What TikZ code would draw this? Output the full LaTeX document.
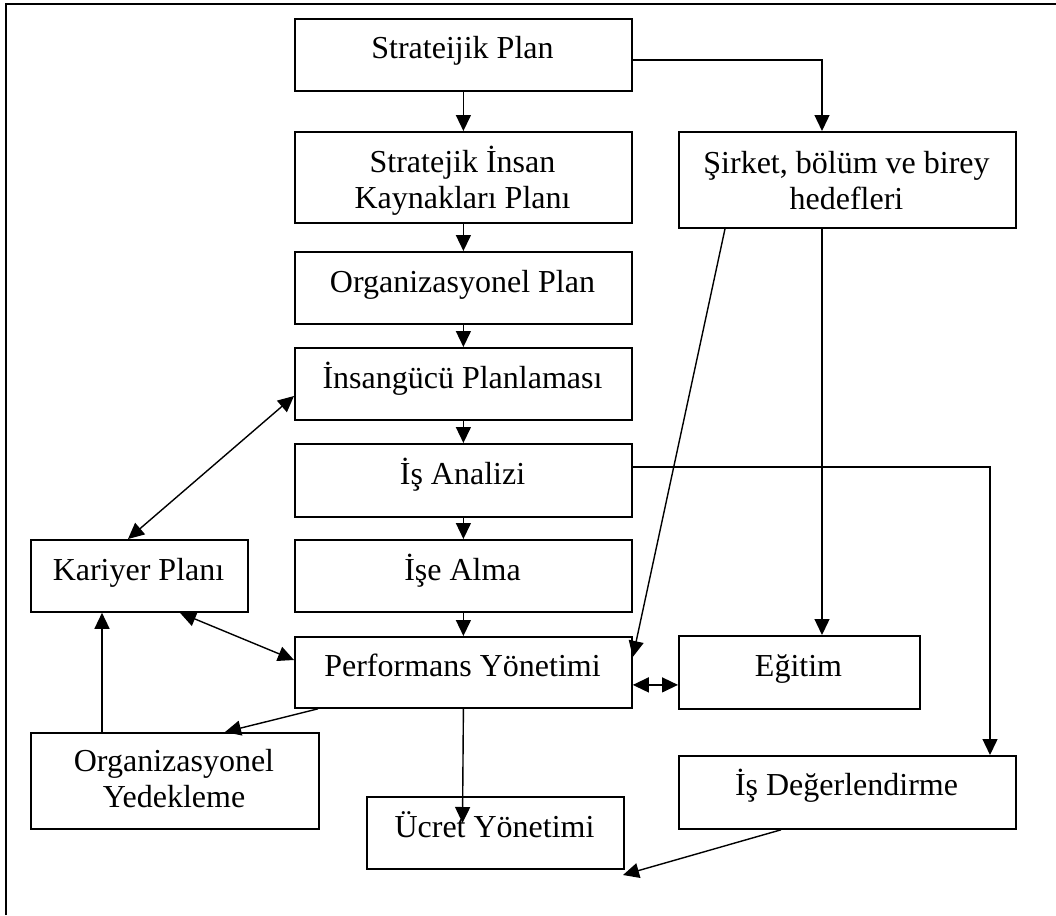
\documentclass[tikz,border=0pt]{standalone}
\usepackage{fontspec}
\setmainfont{Liberation Serif}
\usetikzlibrary{arrows.meta}
\begin{document}
\begin{tikzpicture}[x=1pt,y=-1pt,
  box/.style={draw,line width=1.8pt,rectangle,inner sep=0pt,anchor=north west},
  txt/.style={anchor=base,inner sep=0pt,font=\fontsize{32}{37}\selectfont},
  link/.style={line width=1.4pt},
  arr/.style={link,-{Triangle[length=16pt,width=15pt]}},
  darr/.style={link,{Triangle[length=16pt,width=15pt]}-{Triangle[length=16pt,width=15pt]}}]
\useasboundingbox (0,0) rectangle (1056,915);
% outer frame
\draw[line width=2.2pt] (6,915) -- (6,4) -- (1060,4);
% boxes
\node[box,minimum width=337pt,minimum height=72pt] (sp)  at (294,18)  {};
\node[box,minimum width=337pt,minimum height=91pt] (sik) at (294,131) {};
\node[box,minimum width=337pt,minimum height=72pt] (op)  at (294,251) {};
\node[box,minimum width=337pt,minimum height=72pt] (ip)  at (294,347) {};
\node[box,minimum width=337pt,minimum height=73pt] (ia)  at (294,443) {};
\node[box,minimum width=337pt,minimum height=72pt] (ial) at (294,539) {};
\node[box,minimum width=337pt,minimum height=71pt] (pm)  at (294,636) {};
\node[box,minimum width=337pt,minimum height=96pt] (sb)  at (678,131) {};
\node[box,minimum width=241pt,minimum height=73pt] (eg)  at (678,635) {};
\node[box,minimum width=217pt,minimum height=72pt] (kp)  at (30,539)  {};
\node[box,minimum width=288pt,minimum height=96pt] (oy)  at (30,732)  {};
\node[box,minimum width=257pt,minimum height=72pt] (uy)  at (366,796) {};
\node[box,minimum width=337pt,minimum height=73pt] (id)  at (678,755) {};
% labels
\node[txt] (tsp)  at (462.5,59)  {Strateijik Plan};
\node[txt] (tsik1) at (462.5,172) {Stratejik İnsan};
\node[txt] (tsik2) at (462.5,208) {Kaynakları Planı};
\node[txt] (top)  at (462.5,292) {Organizasyonel Plan};
\node[txt] (tip)  at (462.5,388) {İnsangücü Planlaması};
\node[txt] (tia)  at (462.5,484) {İş Analizi};
\node[txt] (tial) at (462.5,580) {İşe Alma};
\node[txt] (tpm)  at (462.5,676) {Performans Yönetimi};
\node[txt] (tsb1) at (846.5,173) {Şirket, bölüm ve birey};
\node[txt] (tsb2) at (846.5,209) {hedefleri};
\node[txt] (teg)  at (798.5,676) {Eğitim};
\node[txt] (tkp)  at (138.5,580) {Kariyer Planı};
\node[txt] (toy1) at (174,771)   {Organizasyonel};
\node[txt] (toy2) at (174,807)   {Yedekleme};
\node[txt] (tuy)  at (494.5,837) {Ücret Yönetimi};
\node[txt] (tid)  at (846.5,795) {İş Değerlendirme};
% free ends
\coordinate (uyin) at (462.5,823);
\coordinate (idend) at (623,875);
% main column
\draw[arr] (sp.south) -- (sik.north);
\draw[arr] (sik.south) -- (op.north);
\draw[arr] (op.south) -- (ip.north);
\draw[arr] (ip.south) -- (ia.north);
\draw[arr] (ia.south) -- (ial.north);
\draw[arr] (ial.south) -- (pm.north);
% right branch
\draw[arr] ([yshift=-5pt]sp.east) -| ([xshift=144pt]sb.north west);
\draw[arr] ([xshift=144pt]sb.south west) -- ([xshift=144pt]eg.north west);
\draw[arr] ([xshift=47pt]sb.south west) -- ([yshift=-21pt]pm.north east);
\draw[arr] ([yshift=-24pt]ia.north east) -| ([xshift=312pt]id.north west);
\draw[darr] ([yshift=-12.5pt]pm.east) -- ([yshift=-12.5pt]pm.east -| eg.west);
% left branch
\draw[darr] ([yshift=-49pt]ip.north west) -- ([xshift=98pt]kp.north west);
\draw[darr] ([xshift=150pt]kp.south west) -- ([yshift=-24pt]pm.north west);
\draw[arr] ([xshift=72pt]oy.north west) -- ([xshift=72pt]kp.south west);
\draw[arr] ([xshift=24pt]pm.south west) -- ([xshift=195pt]oy.north west);
% bottom
\draw[arr] (pm.south) -- (uyin);
\draw[arr] ([xshift=103pt]id.south west) -- (idend);
\end{tikzpicture}
\end{document}
